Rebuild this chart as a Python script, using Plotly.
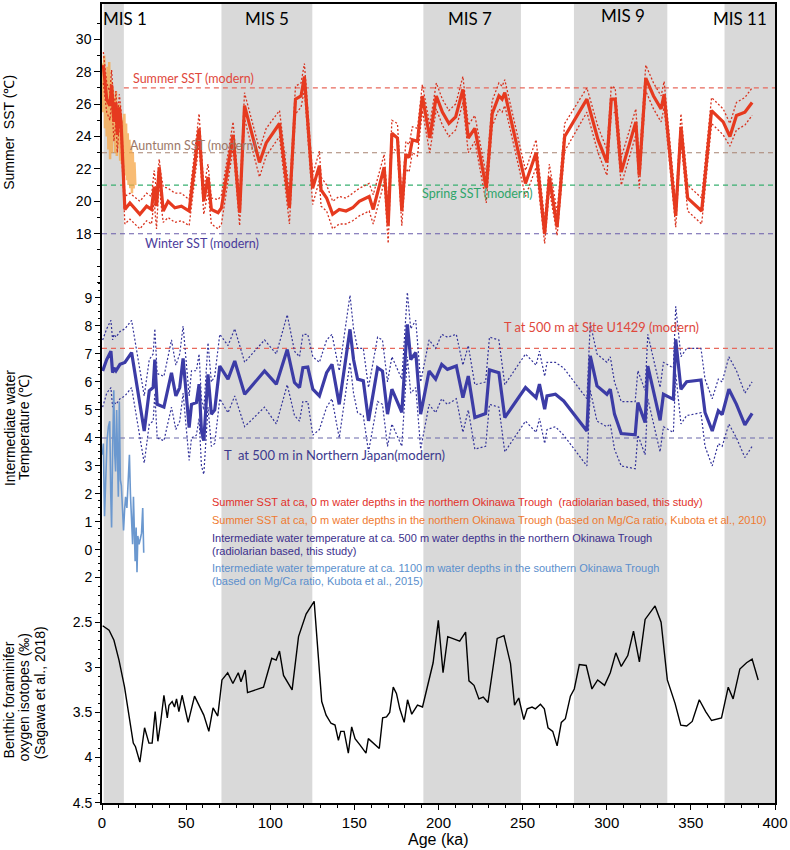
import plotly.graph_objects as go

# ---------------- data ----------------
mis_labels = ["MIS 1", "MIS 5", "MIS 7", "MIS 9", "MIS 11"]
mis_start = [1, 71, 191, 280.5, 370]
mis_end = [13, 125, 249, 336, 400]

# Summer SST, radiolarian based (this study)
sst_age = [0.8, 2.8, 4.7, 5.7, 7.1, 8.3, 9.1, 10.3, 11.3, 12.3,
           13.6, 16.6, 22.5, 26.5, 29.4, 31.0, 32.4, 34.0, 35.0, 36.4,
           39.3, 43.3, 47.2, 51.8, 57.7, 60.5, 63.0, 65.0, 69.0, 71.0,
           77.9, 81.8, 84.7, 93.6, 97.6, 105.5, 111.4, 115.0, 118.3, 120.3,
           125.2, 129.2, 130.2, 133.5, 137.1, 141.0, 145.0, 149.0, 152.9, 158.8,
           161.2, 167.7, 170.1, 172.3, 175.6, 178.2, 180.6, 182.5, 184.5, 187.5,
           190.4, 194.8, 198.7, 202.3, 206.2, 210.2, 214.5, 217.7, 221.6, 228.4,
           231.9, 235.9, 237.8, 239.4, 251.7, 258.0, 263.1, 265.9, 270.5, 275.0,
           288.2, 294.8, 300.1, 302.7, 305.0, 308.6, 317.3, 319.3, 323.2, 327.8,
           332.3, 334.1, 339.6, 341.0, 344.1, 348.1, 356.4, 362.3, 369.2, 373.2,
           377.1, 382.1, 386.4]
sst_main = [28.4, 26.3, 25.9, 27.2, 24.9, 26.1, 24.1, 25.8, 24.9, 22.5,
            19.5, 19.9, 19.2, 19.7, 19.5, 20.9, 19.7, 22.1, 20.8, 19.4,
            20.0, 19.6, 19.7, 19.4, 24.5, 20.0, 21.5, 19.5, 19.3, 19.6,
            24.1, 19.3, 25.9, 22.4, 23.6, 24.8, 19.6, 26.3, 26.5, 27.7,
            20.8, 22.2, 20.7, 20.2, 19.2, 19.5, 19.4, 19.6, 20.0, 20.3,
            19.5, 22.1, 18.5, 24.2, 23.9, 19.4, 22.9, 22.7, 23.8, 23.7,
            26.5, 23.9, 26.5, 25.5, 24.8, 25.2, 26.9, 23.9, 24.5, 20.8,
            25.4, 26.5, 26.3, 26.7, 21.1, 23.0, 18.0, 21.5, 18.4, 24.0,
            26.3, 23.8, 22.4, 26.3, 26.3, 21.8, 24.9, 21.6, 27.6, 26.5,
            25.7, 26.6, 20.6, 19.1, 24.6, 20.2, 19.4, 25.6, 24.9, 24.0,
            25.3, 25.5, 26.1]
sst_upper = [29.2, 27.3, 26.7, 28.1, 25.8, 26.8, 25.0, 26.6, 25.6, 23.3,
             20.3, 20.5, 20.0, 20.5, 20.3, 21.9, 20.6, 22.6, 21.7, 20.9,
             20.8, 20.5, 20.5, 20.1, 25.4, 20.8, 22.3, 20.2, 20.1, 20.4,
             24.9, 20.2, 26.7, 23.2, 24.5, 25.6, 20.5, 27.1, 27.3, 28.5,
             21.6, 23.1, 21.5, 21.0, 20.0, 20.3, 20.2, 20.5, 20.8, 21.1,
             20.4, 22.9, 19.5, 25.0, 24.8, 20.2, 23.7, 23.5, 24.6, 24.5,
             27.2, 24.7, 27.3, 26.3, 25.6, 26.0, 27.7, 24.7, 25.3, 21.6,
             26.2, 27.3, 27.1, 27.5, 21.9, 23.8, 18.8, 22.3, 19.3, 24.8,
             27.0, 24.6, 23.2, 27.1, 27.0, 22.7, 25.7, 22.4, 28.4, 27.3,
             26.5, 27.4, 21.4, 19.9, 25.4, 21.0, 20.2, 26.4, 25.7, 24.8,
             26.1, 26.4, 27.0]
sst_lower = [27.3, 25.5, 25.0, 26.2, 23.7, 25.0, 23.0, 24.8, 24.0, 21.6,
             18.6, 18.9, 18.3, 18.8, 18.6, 20.0, 18.3, 21.3, 19.9, 18.7,
             19.0, 18.7, 18.8, 18.5, 23.6, 19.2, 20.6, 18.6, 18.3, 18.6,
             23.3, 18.5, 25.1, 21.5, 22.8, 24.0, 18.6, 25.4, 25.8, 26.9,
             19.8, 21.3, 19.7, 19.4, 18.3, 18.6, 18.6, 18.8, 19.1, 19.4,
             18.6, 21.2, 17.4, 23.4, 23.0, 18.5, 22.0, 21.8, 23.0, 22.8,
             25.6, 23.0, 25.7, 24.7, 24.0, 24.4, 26.1, 23.0, 23.7, 19.9,
             24.6, 25.7, 25.5, 25.9, 20.3, 22.1, 17.4, 20.7, 17.9, 23.1,
             25.5, 23.0, 21.6, 25.4, 25.5, 21.0, 24.1, 20.8, 26.8, 25.7,
             24.9, 25.8, 19.8, 18.4, 23.8, 19.4, 18.6, 24.8, 24.1, 23.4,
             24.4, 24.7, 25.3]

# Summer SST, Mg/Ca (Kubota et al., 2010)
mgca_sst_age = [0.3, 0.8, 1.3, 1.8, 2.3, 2.8, 3.3, 3.8, 4.3, 4.8,
                5.3, 5.8, 6.3, 6.8, 7.3, 7.8, 8.3, 8.8, 9.3, 9.8,
                10.3, 10.8, 11.3, 11.8, 12.3, 12.8, 13.3, 13.8, 14.3, 14.8,
                15.3, 15.8, 16.3, 16.8, 17.3, 17.8, 18.3, 18.8, 19.3, 19.8]
mgca_sst = [28.5, 25.5, 29.0, 24.5, 27.8, 24.0, 28.3, 23.2, 28.6, 22.6,
            27.5, 23.0, 27.0, 23.8, 26.4, 23.0, 26.8, 22.8, 25.6, 23.4,
            26.0, 22.5, 25.4, 22.3, 25.0, 22.0, 25.4, 21.6, 24.8, 21.3,
            24.2, 21.0, 23.8, 20.8, 23.4, 20.5, 23.0, 20.8, 22.4, 21.0]

# Intermediate water temperature, radiolarian based (this study)
it_age = [0.4, 2.8, 5.3, 6.3, 7.1, 8.3, 10.7, 13.6, 17.6, 25.1,
          28.1, 30.4, 31.4, 32.8, 36.8, 41.3, 43.9, 46.2, 48.2, 51.8,
          53.2, 56.1, 57.7, 59.1, 60.5, 61.7, 63.0, 65.0, 67.0, 70.0,
          74.9, 78.9, 84.8, 96.6, 103.6, 110.1, 114.4, 117.4, 119.4, 122.3,
          125.3, 129.2, 133.5, 136.7, 141.0, 147.4, 149.5, 151.9, 155.3, 158.4,
          163.8, 166.7, 169.7, 172.3, 178.2, 181.5, 183.5, 186.5, 189.4, 194.4,
          198.3, 201.9, 205.3, 210.6, 214.5, 217.7, 221.6, 228.0, 230.3, 235.9,
          239.4, 251.7, 258.0, 260.0, 263.1, 264.5, 269.5, 274.4, 288.2, 290.2,
          294.2, 300.1, 302.1, 304.6, 308.6, 316.9, 318.5, 322.8, 324.4, 331.7,
          333.7, 339.6, 341.0, 344.1, 347.5, 356.0, 358.4, 362.7, 366.3, 368.6,
          372.6, 377.1, 382.1, 386.4]
it_main = [6.39, 6.8, 7.1, 6.33, 6.5, 6.4, 6.63, 6.7, 7.05, 4.25,
           5.68, 5.8, 6.8, 5.2, 5.1, 6.33, 5.5, 5.8, 6.84, 4.37,
           5.2, 5.26, 5.92, 4.25, 3.9, 4.9, 6.27, 4.85, 5.0, 6.57,
           6.1, 6.75, 5.56, 6.39, 5.92, 7.16, 5.98, 5.8, 6.51, 6.53,
           5.74, 5.5, 6.33, 6.63, 5.2, 7.88, 6.8, 6.1, 6.04, 4.61,
           6.51, 6.39, 4.85, 5.74, 4.91, 8.06, 6.8, 7.05, 4.85, 6.39,
           6.1, 6.63, 6.45, 6.57, 5.44, 6.21, 4.73, 4.87, 6.43, 6.33,
           4.73, 5.8, 5.44, 5.92, 5.03, 5.5, 5.56, 5.32, 4.25, 6.93,
           5.86, 5.56, 5.74, 4.85, 4.16, 4.11, 5.26, 4.55, 6.57, 4.63,
           5.56, 5.38, 7.52, 5.74, 6.01, 6.07, 4.91, 4.25, 4.97, 4.83,
           5.74, 5.2, 4.47, 4.88]
it_upper = [7.5, 7.9, 8.2, 7.5, 7.7, 7.6, 7.8, 7.9, 8.2, 5.5,
            6.8, 7.0, 7.9, 6.3, 6.2, 7.5, 6.6, 7.0, 8.0, 5.5,
            6.4, 6.4, 7.0, 5.4, 5.0, 6.0, 7.4, 6.0, 6.2, 7.7,
            7.3, 7.9, 6.7, 7.5, 7.0, 8.4, 7.1, 6.9, 7.7, 7.7,
            6.9, 6.7, 7.5, 7.7, 6.4, 9.1, 7.9, 7.2, 7.2, 5.8,
            7.6, 7.5, 6.0, 6.9, 6.1, 9.2, 7.9, 8.2, 6.0, 7.5,
            7.2, 7.7, 7.6, 7.7, 6.6, 7.3, 5.9, 6.0, 7.6, 7.5,
            5.9, 7.0, 6.6, 7.1, 6.2, 6.7, 6.7, 6.5, 5.4, 8.1,
            7.0, 6.7, 6.9, 6.0, 5.3, 5.3, 6.4, 5.7, 7.7, 5.8,
            6.7, 6.5, 8.7, 6.9, 7.2, 7.2, 6.1, 5.4, 6.1, 6.0,
            6.9, 6.4, 5.6, 6.0]
it_lower = [5.1, 5.6, 5.8, 5.1, 5.3, 5.2, 5.4, 5.5, 5.8, 3.1,
            4.5, 4.6, 5.6, 4.0, 3.9, 5.1, 4.3, 4.6, 5.6, 3.2,
            4.0, 4.1, 4.7, 3.0, 2.7, 3.7, 5.1, 3.7, 3.8, 5.4,
            4.9, 5.5, 4.4, 5.1, 4.5, 5.9, 4.8, 4.6, 5.3, 5.3,
            4.1, 4.3, 5.1, 5.4, 4.0, 6.7, 5.6, 4.9, 4.8, 3.5,
            5.3, 5.2, 3.7, 4.5, 3.7, 6.9, 5.6, 5.8, 3.6, 5.2,
            4.9, 5.4, 5.2, 5.4, 4.2, 5.0, 3.6, 3.7, 5.2, 5.1,
            3.5, 4.6, 4.2, 4.7, 3.8, 4.3, 4.4, 4.1, 3.0, 5.7,
            4.6, 4.4, 4.5, 3.6, 3.0, 2.9, 4.1, 3.4, 5.4, 3.5,
            4.4, 4.2, 6.3, 4.5, 4.8, 4.9, 3.7, 3.0, 3.8, 3.7,
            4.5, 4.0, 3.3, 3.7]

# Intermediate water temperature, Mg/Ca (Kubota et al., 2015)
mgca_it_age = [0.3, 0.8, 1.5, 2.2, 3.0, 3.8, 4.6, 5.2, 5.7, 6.3,
               7.0, 7.6, 8.1, 8.7, 9.3, 9.7, 10.3, 10.9, 11.5, 12.1,
               12.8, 13.4, 14.0, 14.8, 15.5, 16.3, 16.9, 17.5, 18.2, 18.7,
               19.3, 19.7, 20.3, 20.8, 21.3, 22.0, 22.8, 23.5, 24.2, 24.8]
mgca_it = [3.4, 3.8, 1.2, 2.8, 3.9, 4.4, 4.6, 2.0, 0.8, 3.5,
           5.7, 3.4, 2.8, 5.0, 2.6, 1.9, 5.3, 2.5, 2.3, 1.5,
           0.7, 1.4, 1.9, 1.5, 2.6, 3.4, 2.0, 1.1, 0.2, 1.9,
           0.6, -0.4, 0.8, -0.8, 0.5, 0.2, 0.4, 0.6, 1.5, -0.1]

# Benthic foraminifer oxygen isotopes (Sagawa et al., 2018)
d18o_age = [0.4, 4.2, 7.1, 10.1, 13.4, 16.0, 18.6, 19.9, 22.5, 25.3,
            27.9, 29.8, 31.6, 33.2, 34.8, 36.8, 38.8, 39.8, 41.7, 43.1,
            44.3, 45.7, 47.6, 51.2, 55.0, 60.5, 63.5, 66.0, 68.8, 71.3,
            74.7, 77.8, 81.0, 82.6, 85.1, 86.5, 96.0, 100.9, 103.5, 105.5,
            107.9, 113.0, 116.8, 121.3, 126.1, 130.6, 133.2, 136.1, 138.5, 140.5,
            141.9, 143.9, 146.4, 148.4, 150.4, 153.3, 156.9, 158.3, 164.8, 166.8,
            169.1, 171.0, 173.1, 175.0, 177.0, 179.6, 181.6, 184.1, 187.5, 190.5,
            193.4, 196.8, 199.9, 202.7, 205.5, 212.6, 216.1, 218.1, 221.1, 224.0,
            226.6, 229.4, 234.9, 238.9, 242.8, 245.2, 247.7, 250.7, 252.7, 255.6,
            257.6, 260.6, 262.9, 265.1, 267.9, 270.5, 273.0, 275.4, 278.4, 280.7,
            283.7, 287.8, 291.2, 294.6, 298.7, 302.1, 305.4, 308.6, 312.5, 315.9,
            319.4, 322.8, 328.7, 332.3, 336.0, 340.6, 344.0, 347.5, 350.8, 355.0,
            358.8, 362.3, 368.2, 372.2, 375.1, 379.1, 383.1, 386.4, 390.0]
d18o = [2.54, 2.59, 2.70, 2.92, 3.22, 3.51, 3.84, 3.88, 4.05, 3.67,
        3.84, 3.84, 3.49, 3.82, 3.62, 3.31, 3.56, 3.42, 3.38, 3.44,
        3.35, 3.49, 3.31, 3.61, 3.32, 3.53, 3.71, 3.45, 3.54, 3.14,
        3.06, 3.18, 3.06, 3.16, 3.03, 3.28, 3.22, 2.90, 2.92, 2.82,
        3.09, 3.25, 2.66, 2.41, 2.27, 3.38, 3.53, 3.62, 3.64, 3.81,
        3.71, 3.71, 3.95, 3.66, 3.79, 3.86, 3.95, 3.79, 3.90, 3.56,
        3.55, 3.50, 3.22, 3.29, 3.46, 3.61, 3.36, 3.52, 3.42, 3.44,
        3.22, 2.95, 2.48, 3.06, 2.66, 2.71, 2.61, 3.15, 3.20, 3.35,
        3.33, 3.39, 2.68, 2.65, 2.96, 3.42, 3.34, 3.58, 3.46, 3.44,
        3.46, 3.41, 3.46, 3.67, 3.71, 3.87, 3.61, 3.57, 3.32, 3.24,
        2.97, 2.98, 3.24, 3.14, 3.20, 3.06, 2.84, 2.99, 2.87, 2.60,
        2.94, 2.47, 2.32, 2.50, 3.14, 3.40, 3.64, 3.65, 3.60, 3.36,
        3.49, 3.59, 3.56, 3.22, 3.35, 3.02, 2.95, 2.91, 3.14]

# modern reference values
sst_ref_names = ["Summer SST (modern)", "Auntumn SST (modern)", "Spring SST (modern)", "Winter SST (modern)"]
sst_ref_vals = [27, 23, 21, 18]
it_ref_names = ["T at 500 m at Site U1429 (modern)", "T  at 500 m in Northern Japan(modern)"]
it_ref_vals = [7.2, 4.0]

# ticks
x_ticks = [0, 50, 100, 150, 200, 250, 300, 350, 400]
sst_ticks = [18, 20, 22, 24, 26, 28, 30]
it_ticks = [0, 1, 2, 3, 4, 5, 6, 7, 8, 9]
d18o_ticks = [2.0, 2.5, 3.0, 3.5, 4.0, 4.5]
d18o_ticktext = ["2", "2.5", "3", "3.5", "4", "4.5"]

legend_lines = [
    ("Summer SST at ca, 0 m water depths in the northern Okinawa Trough  (radiolarian based, this study)", "#e2312a"),
    ("Summer SST at ca, 0 m water depths in the northern Okinawa Trough (based on Mg/Ca ratio, Kubota et al., 2010)", "#ef7a30"),
    ("Intermediate water temperature at ca. 500 m water depths in the northern Okinawa Trough", "#3b2f8c"),
    ("(radiolarian based, this study)", "#3b2f8c"),
    ("Intermediate water temperature at ca. 1100 m water depths in the southern Okinawa Trough", "#5b8fcd"),
    ("(based on Mg/Ca ratio, Kubota et al., 2015)", "#5b8fcd"),
]

# ---------------- layout geometry ----------------
W, H = 790, 850
PL, PR, PT, PB = 102, 776, 2, 803


def xp(px):
    return (px - PL) / (PR - PL)


def yp(py):
    return (PB - py) / (PB - PT)


def axis_range(v1, p1, v2, p2):
    s = (v2 - v1) / (p2 - p1)
    return [v1 + (PB - p1) * s, v1 + (PT - p1) * s]


top_range = axis_range(30, 37.3, 18, 232.3)
mid_range = axis_range(9, 296.7, 0, 549.3)
bot_range = axis_range(2.5, 621.7, 4.5, 802.7)

FONT = "Liberation Sans, Arial, sans-serif"
FONT2 = "Lato, Noto Sans, sans-serif"

fig = go.Figure()

# reference dashed lines
ref_top_colors = ["#e8695c", "#a88272", "#39b070", "#6a5cab"]
ref_top_x0 = [13, 0, 0, 0]
for v, c, x0 in zip(sst_ref_vals, ref_top_colors, ref_top_x0):
    fig.add_trace(go.Scatter(x=[x0, 400], y=[v, v], mode="lines", yaxis="y",
                             line=dict(color=c, width=1.1, dash="5px,4px"), hoverinfo="skip"))
ref_mid_colors = ["#e8695c", "#6a68ab"]
for v, c in zip(it_ref_vals, ref_mid_colors):
    fig.add_trace(go.Scatter(x=[0, 400], y=[v, v], mode="lines", yaxis="y2",
                             line=dict(color=c, width=1.1, dash="5px,4px"), hoverinfo="skip"))

# orange Mg/Ca SST
fig.add_trace(go.Scatter(x=mgca_sst_age, y=mgca_sst, mode="lines", yaxis="y",
                         line=dict(color="rgba(245,165,70,0.75)", width=2.5)))
# red radiolarian SST
red_dot = "#d8321e"
fig.add_trace(go.Scatter(x=sst_age, y=sst_upper, mode="lines", yaxis="y",
                         line=dict(color=red_dot, width=1.3, dash="2px,2px")))
fig.add_trace(go.Scatter(x=sst_age, y=sst_lower, mode="lines", yaxis="y",
                         line=dict(color=red_dot, width=1.3, dash="2px,2px")))
fig.add_trace(go.Scatter(x=sst_age, y=sst_main, mode="lines", yaxis="y",
                         line=dict(color="#e63a1f", width=3.2)))

# blue intermediate water temperature
blue = "#3c3ca6"
fig.add_trace(go.Scatter(x=it_age, y=it_upper, mode="lines", yaxis="y2",
                         line=dict(color="#33339a", width=1.2, dash="2px,2px")))
fig.add_trace(go.Scatter(x=it_age, y=it_lower, mode="lines", yaxis="y2",
                         line=dict(color="#33339a", width=1.2, dash="2px,2px")))
fig.add_trace(go.Scatter(x=it_age, y=it_main, mode="lines", yaxis="y2",
                         line=dict(color=blue, width=3.2)))
fig.add_trace(go.Scatter(x=mgca_it_age, y=mgca_it, mode="lines", yaxis="y2",
                         line=dict(color="#6b98cf", width=1.6)))

# black d18O
fig.add_trace(go.Scatter(x=d18o_age, y=d18o, mode="lines", yaxis="y3",
                         line=dict(color="black", width=1.4)))

# MIS shaded bands
shapes = []
for s, e in zip(mis_start, mis_end):
    shapes.append(dict(type="rect", xref="x", yref="paper", x0=s, x1=e, y0=0, y1=1,
                       fillcolor="#d9d9d9", line=dict(width=0), layer="below"))

annotations = []
# MIS labels
mis_label_px = [125, 267, 471, 624, 741]
mis_label_py = [16.5, 16.5, 16.5, 14, 16.5]
for t, px, py in zip(mis_labels, mis_label_px, mis_label_py):
    annotations.append(dict(text=t, xref="paper", yref="paper", x=xp(px), y=yp(py),
                            xanchor="center", yanchor="middle", showarrow=False,
                            font=dict(family=FONT2, size=17, color="black")))

# reference labels
ref_lab = [
    (sst_ref_names[0], 131, 77, "#e0473b", 12.5),
    (sst_ref_names[1], 128, 144, "#9c7868", 12.5),
    (sst_ref_names[2], 420, 192, "#2fa56a", 12.5),
    (sst_ref_names[3], 143, 242, "#4b3c9c", 12.5),
    (it_ref_names[0], 503, 326, "#e0473b", 12.8),
    (it_ref_names[1], 222, 454, "#3c3a8e", 13),
]
for t, px, py, c, sz in ref_lab:
    annotations.append(dict(text=t, xref="paper", yref="paper", x=xp(px), y=yp(py),
                            xanchor="left", yanchor="middle", showarrow=False,
                            font=dict(family=FONT2, size=sz, color=c)))

# legend text lines
leg_py = [501, 519, 537, 550, 567, 580]
for (t, c), py in zip(legend_lines, leg_py):
    annotations.append(dict(text=t, xref="paper", yref="paper", x=xp(210), y=yp(py),
                            xanchor="left", yanchor="middle", showarrow=False,
                            font=dict(family=FONT, size=11, color=c)))

# y titles
ytitles = [
    ("Summer  SST (℃)", 9, 131),
    ("Intermediate water", 10, 427),
    ("Temperature (℃)", 24, 426),
    ("Benthic foraminifer", 9, 700),
    ("oxygen isotopes (‰)", 24, 697),
    ("(Sagawa et al., 2018)", 40, 693),
]
for t, px, py in ytitles:
    annotations.append(dict(text=t, xref="paper", yref="paper", x=xp(px), y=yp(py),
                            xanchor="center", yanchor="middle", showarrow=False, textangle=-90,
                            font=dict(family=FONT, size=14, color="black")))

# x title
annotations.append(dict(text="Age (ka)", xref="paper", yref="paper", x=xp(438), y=yp(840),
                        xanchor="center", yanchor="middle", showarrow=False,
                        font=dict(family=FONT, size=16, color="black")))

common_y = dict(ticks="outside", ticklen=6, tickwidth=1.1, tickcolor="black",
                showgrid=False, zeroline=False, tickfont=dict(family=FONT, size=14, color="black"))

fig.update_layout(
    width=W, height=H,
    margin=dict(l=PL, r=W - PR, t=PT, b=H - PB),
    plot_bgcolor="white", paper_bgcolor="white",
    showlegend=False,
    shapes=shapes, annotations=annotations,
    xaxis=dict(range=[0, 400], tickvals=x_ticks, ticks="outside", ticklen=5, tickwidth=1.1,
               tickcolor="black", showline=True, linecolor="black", linewidth=1.5, mirror=True,
               showgrid=False, zeroline=False,
               tickfont=dict(family=FONT, size=15, color="black"),
               minor=dict(tickvals=[v for v in range(0, 401, 10) if v % 50], ticks="outside",
                          ticklen=3, tickcolor="black", tickwidth=1)),
    yaxis=dict(range=top_range, tickvals=sst_ticks, showline=True, linecolor="black",
               linewidth=1.5, mirror=True,
               minor=dict(tickvals=[v for v in range(15, 32) if v not in sst_ticks],
                          ticks="outside", ticklen=3, tickcolor="black", tickwidth=1),
               **common_y),
    yaxis2=dict(range=mid_range, overlaying="y", anchor="x", side="left", showline=False,
                tickvals=it_ticks,
                minor=dict(tickvals=[i * 0.25 for i in range(-4, 41) if i % 4],
                           ticks="outside", ticklen=3, tickcolor="black", tickwidth=1),
                **common_y),
    yaxis3=dict(range=bot_range, overlaying="y", anchor="x", side="left", showline=False,
                tickvals=d18o_ticks, ticktext=d18o_ticktext,
                minor=dict(tickvals=[round(2.0 + i * 0.1, 2) for i in range(0, 26) if i % 5],
                           ticks="outside", ticklen=3, tickcolor="black", tickwidth=1),
                **common_y),
)

fig.write_html("out.html", config={"displayModeBar": False},
               post_script="document.body.style.margin='0';document.body.style.overflow='hidden';")
